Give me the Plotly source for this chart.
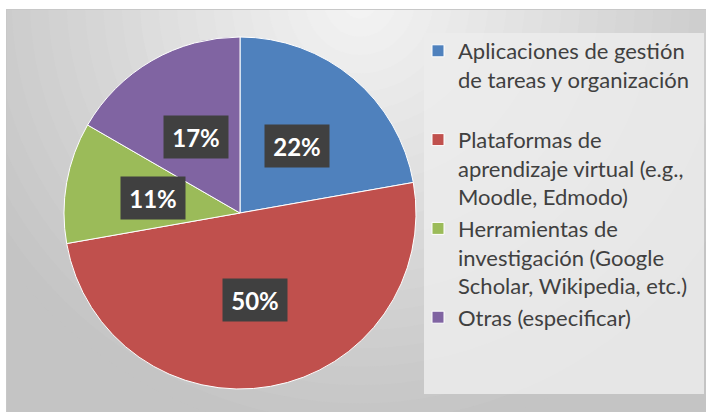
import math
import plotly.graph_objects as go

# ---- data ----
categories = [
    "Aplicaciones de gestión<br>de tareas y organización<br> ",
    "Plataformas de<br>aprendizaje virtual (e.g.,<br>Moodle, Edmodo)",
    "Herramientas de<br>investigación (Google<br>Scholar, Wikipedia, etc.)",
    "Otras (especificar)",
]
values = [4, 9, 2, 3]
colors = ["#4f81bd", "#c0504d", "#9bbb59", "#8064a2"]

W, H = 706, 412
cx_px, cy_px, r_px = 240, 213, 176

fig = go.Figure()
fig.add_trace(go.Pie(
    labels=categories,
    values=values,
    sort=False,
    direction="clockwise",
    rotation=0,
    marker=dict(colors=colors, line=dict(color="#ffffff", width=1)),
    textinfo="none",
    hoverinfo="label+percent",
    domain=dict(x=[(cx_px - r_px) / W, (cx_px + r_px) / W],
                y=[1 - (cy_px + r_px) / H, 1 - (cy_px - r_px) / H]),
))

# ---- background (radial-ish gradient) ----
shapes = []
shapes.append(dict(type="rect", xref="paper", yref="paper", x0=0, x1=1, y0=0, y1=1,
                   fillcolor="#c4c4c4", line=dict(width=0), layer="below"))
gx, gy = 360, 0
steps = 24
rmax = 440
for i in range(steps):
    rr = rmax * (1 - i / steps)
    t = rr / rmax
    c = int(246 - (246 - 196) * t)
    shapes.append(dict(type="circle", xref="paper", yref="paper",
                       x0=(gx - rr) / W, x1=(gx + rr) / W,
                       y0=1 - (gy + rr) / H, y1=1 - (gy - rr) / H,
                       fillcolor=f"rgb({c},{c},{c})", line=dict(width=0), layer="below"))
# legend panel
shapes.append(dict(type="rect", xref="paper", yref="paper",
                   x0=424 / W, x1=704 / W, y0=1 - 394 / H, y1=1 - 33 / H,
                   fillcolor="rgba(236,236,236,0.85)", line=dict(width=0), layer="below"))
# white margins + border
shapes.append(dict(type="rect", xref="paper", yref="paper", x0=0, x1=1, y0=1 - 9 / H, y1=1,
                   fillcolor="#ffffff", line=dict(width=0), layer="below"))
shapes.append(dict(type="rect", xref="paper", yref="paper", x0=0, x1=6 / W, y0=0, y1=1,
                   fillcolor="#ffffff", line=dict(width=0), layer="below"))
shapes.append(dict(type="line", xref="paper", yref="paper", x0=6 / W, x1=1, y0=1 - 9.5 / H, y1=1 - 9.5 / H,
                   line=dict(color="#c8c8c8", width=1), layer="below"))
shapes.append(dict(type="line", xref="paper", yref="paper", x0=6.5 / W, x1=6.5 / W, y0=0, y1=1 - 9 / H,
                   line=dict(color="#c8c8c8", width=1), layer="below"))

# ---- data labels (boxes at half radius of each slice's mid angle) ----
total = sum(values)
annotations = []
cum = 0
for v in values:
    mid = (cum + v / 2) / total * 2 * math.pi
    cum += v
    x = (cx_px + 0.5 * r_px * math.sin(mid)) / W
    y = 1 - (cy_px - 0.5 * r_px * math.cos(mid)) / H
    annotations.append(dict(
        x=x, y=y, xref="paper", yref="paper", showarrow=False,
        xanchor="center", yanchor="middle",
        text=f"<b>{round(100 * v / total)}%</b>",
        font=dict(family="Lato", size=24, color="#ffffff"),
        bgcolor="#404040", borderpad=7, width=50, height=28,
    ))

fig.update_layout(
    width=W, height=H,
    margin=dict(l=0, r=0, t=0, b=0),
    paper_bgcolor="#ffffff",
    shapes=shapes,
    annotations=annotations,
    showlegend=True,
    legend=dict(
        x=418 / W, y=1 - 30 / H, xanchor="left", yanchor="top",
        bgcolor="rgba(0,0,0,0)",
        font=dict(family="Lato", size=22, color="#404040"),
        valign="top",
    ),
)

fig.write_html("out.html", config={"displayModeBar": False},
               post_script="document.body.style.margin='0';document.body.style.overflow='hidden';")
